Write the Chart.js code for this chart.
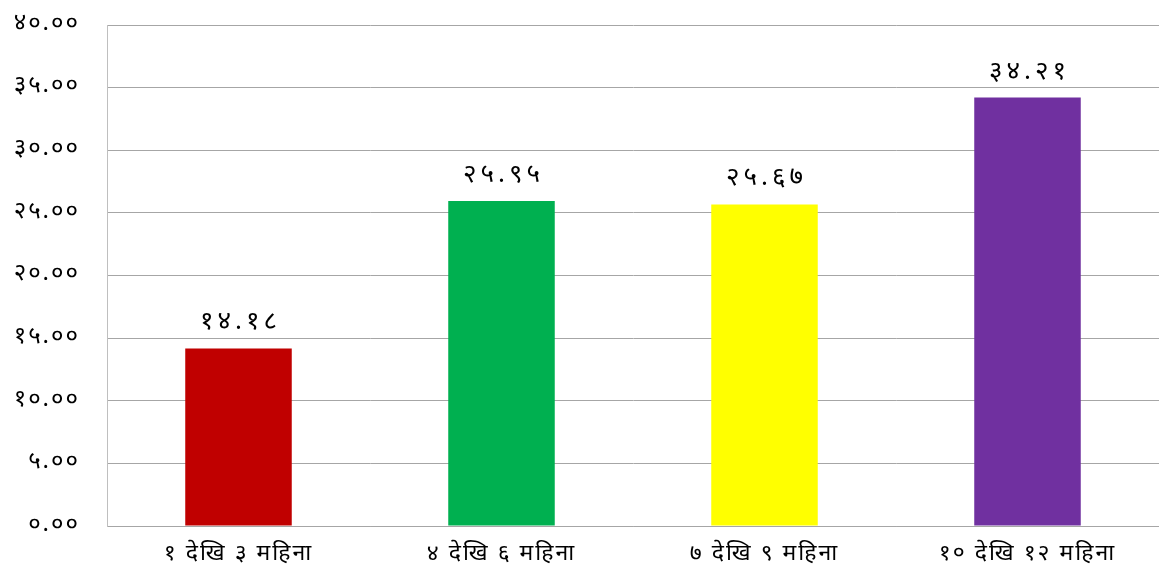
<!DOCTYPE html>
<html>
<head>
<meta charset="utf-8">
<script src="https://cdn.jsdelivr.net/npm/chart.js@4/dist/chart.umd.min.js"></script>
<style>
  html, body { margin: 0; padding: 0; background: #fff; }
  #wrap { width: 1159px; height: 582px; position: relative; }
</style>
</head>
<body>
<div id="wrap"><canvas id="chart"></canvas></div>
<script>
const categories = ['१ देखि ३ महिना', '४ देखि ६ महिना', '७ देखि ९ महिना', '१० देखि १२ महिना'];
const values = [14.18, 25.95, 25.67, 34.21];
const barColors = ['#C00000', '#00B050', '#FFFF00', '#7030A0'];

const devDigits = '०१२३४५६७८९';
function toDev(str) {
    return String(str).replace(/[0-9]/g, d => devDigits[+d]);
}

const FONT = '"Noto Sans", "Noto Sans Devanagari", "Lohit Devanagari", sans-serif';

// wider letter spacing like the original's Devanagari font
const spacing = {
    id: 'spacing',
    beforeDraw(chart) { chart.ctx.letterSpacing = '2px'; }
};

const valueLabels = {
    id: 'valueLabels',
    afterDatasetsDraw(chart) {
        const ctx = chart.ctx;
        const meta = chart.getDatasetMeta(0);
        ctx.save();
        ctx.font = '26px ' + FONT;
        ctx.letterSpacing = '4px';
        ctx.fillStyle = '#000';
        ctx.textAlign = 'center';
        ctx.textBaseline = 'alphabetic';
        meta.data.forEach((bar, i) => {
            ctx.fillText(toDev(values[i].toFixed(2)), bar.x + 2, bar.y - 19);
        });
        ctx.restore();
    }
};

new Chart(document.getElementById('chart').getContext('2d'), {
    type: 'bar',
    data: {
        labels: categories,
        datasets: [{
            data: values,
            backgroundColor: barColors,
            borderWidth: 0,
            categoryPercentage: 1,
            barPercentage: 0.405
        }]
    },
    options: {
        responsive: true,
        maintainAspectRatio: false,
        animation: false,
        layout: { padding: { top: 25, right: 0, left: 0, bottom: 0 } },
        plugins: {
            legend: { display: false },
            tooltip: { enabled: false }
        },
        scales: {
            x: {
                grid: { display: false, drawTicks: false },
                border: { display: true, color: '#a6a6a6', width: 1 },
                ticks: { color: '#000', font: { family: FONT, size: 23 }, padding: 14, maxRotation: 0 },
                afterFit(scale) { scale.height = 56; }
            },
            y: {
                min: 0,
                max: 40,
                ticks: {
                    stepSize: 5,
                    color: '#000',
                    padding: 27,
                    labelOffset: -2,
                    font: { family: FONT, size: 24 },
                    callback: v => toDev(v.toFixed(2))
                },
                grid: { color: '#a6a6a6', drawTicks: false },
                border: { display: true, color: '#bfbfbf', width: 1 },
                afterFit(scale) {
                    scale.width = 107;
                    scale.paddingTop = 0;
                    scale.paddingBottom = 0;
                }
            }
        }
    },
    plugins: [spacing, valueLabels]
});
</script>
</body>
</html>
